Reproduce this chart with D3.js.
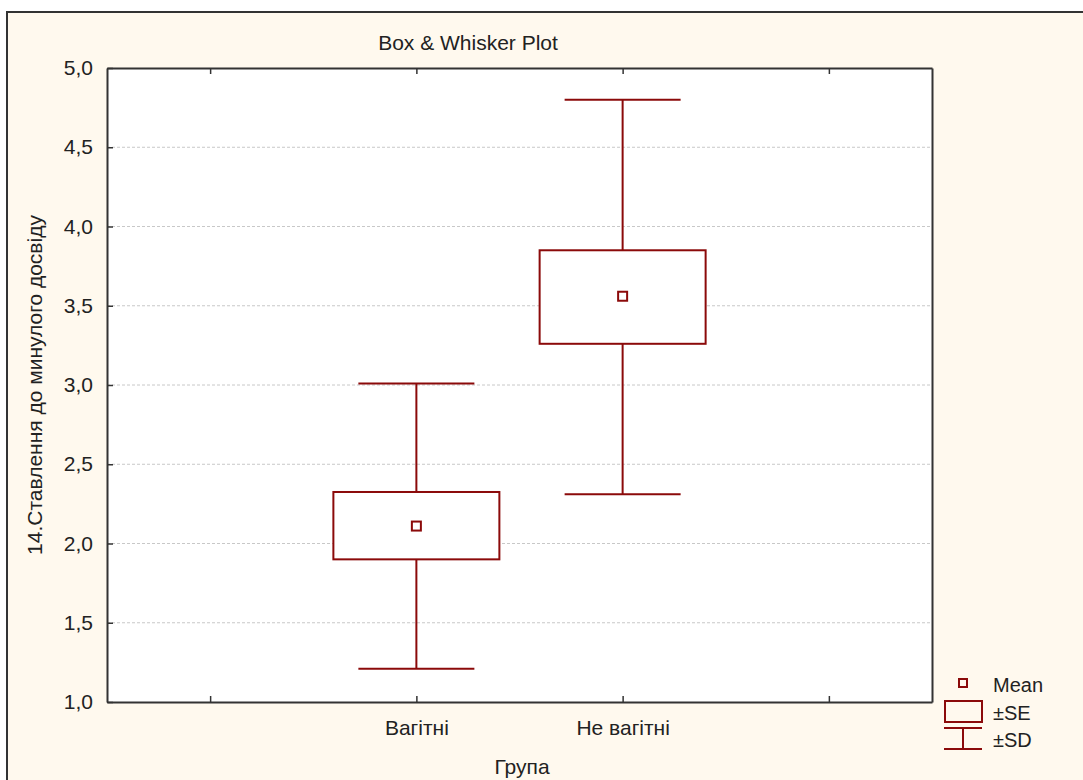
<!DOCTYPE html>
<html lang="uk">
<head>
<meta charset="UTF-8">
<title>Box & Whisker Plot</title>
<script src="https://cdn.jsdelivr.net/npm/d3@7"></script>
<style>
  body { margin: 0; background: #fff; }
  svg text { font-family: "Liberation Sans", Arial, sans-serif; fill: #222; }
</style>
</head>
<body>
<div id="chart"></div>
<script>
// data
const groups = ["Вагітні", "Не вагітні"];
const means = [2.11, 3.56];
const seLow = [1.90, 3.26];
const seHigh = [2.325, 3.85];
const sdLow = [1.21, 2.31];
const sdHigh = [3.01, 4.80];
const yTicks = [1.0, 1.5, 2.0, 2.5, 3.0, 3.5, 4.0, 4.5, 5.0];
const xTickPos = [0.5, 1.5, 2.5, 3.5];
const xTickLabels = ["", "Вагітні", "Не вагітні", ""];

const W = 1083, H = 780;
const red = "#8b0a0a";
const fs = 21;
const fmt = d => d.toFixed(1).replace(".", ",");

let svg = d3.select("#chart").append("svg")
    .attr("width", W).attr("height", H);

// cream frame
svg.append("rect")
    .attr("x", 7).attr("y", 12)
    .attr("width", W).attr("height", H)
    .attr("fill", "#fff9ee")
    .attr("stroke", "#333").attr("stroke-width", 2);

let plot = { left: 107, top: 68, right: 932, bottom: 702 };

let x = d3.scaleLinear().domain([0, 4]).range([plot.left, plot.right]);
let y = d3.scaleLinear().domain([1, 5]).range([plot.bottom, plot.top]);

svg.append("rect")
    .attr("x", plot.left).attr("y", plot.top)
    .attr("width", plot.right - plot.left).attr("height", plot.bottom - plot.top)
    .attr("fill", "#fff");

// gridlines
svg.append("g").selectAll("line")
    .data(yTicks.slice(1, -1))
    .join("line")
    .attr("x1", plot.left).attr("x2", plot.right)
    .attr("y1", d => y(d)).attr("y2", d => y(d))
    .attr("stroke", "#c8c8c8").attr("stroke-dasharray", "3,2");

// y axis (ticks inward)
let yAxis = d3.axisLeft(y).tickValues(yTicks).tickFormat(fmt).tickSizeInner(-6).tickSizeOuter(0).tickPadding(14);
let gy = svg.append("g").attr("transform", `translate(${plot.left},0)`).call(yAxis);
gy.attr("font-size", fs).attr("font-family", null);

// x axis bottom and top
let xAxis = d3.axisBottom(x).tickValues(xTickPos)
    .tickFormat((d, i) => xTickLabels[i]).tickSizeInner(-6).tickSizeOuter(0).tickPadding(18);
let gx = svg.append("g").attr("transform", `translate(0,${plot.bottom})`).call(xAxis);
gx.attr("font-size", fs).attr("font-family", null);

svg.append("g").attr("transform", `translate(0,${plot.top})`)
    .call(d3.axisTop(x).tickValues(xTickPos).tickFormat("").tickSizeInner(-6).tickSizeOuter(0));

// right axis line
svg.append("g").attr("transform", `translate(${plot.right},0)`)
    .call(d3.axisRight(y).tickValues([]).tickSizeOuter(0));

svg.selectAll(".domain").attr("stroke", "#333").attr("stroke-width", 2);
svg.selectAll(".tick line").attr("stroke", "#333").attr("stroke-width", 1.5);
svg.selectAll(".tick text").attr("fill", "#222");

// boxes
let data = groups.map((g, i) => ({
    g, pos: i + 1.5, mean: means[i], seL: seLow[i], seH: seHigh[i], sdL: sdLow[i], sdH: sdHigh[i]
}));

let boxW = 166, capW = 116, mk = 9;
let bg = svg.append("g").selectAll("g").data(data).join("g");

bg.append("line")
    .attr("x1", d => x(d.pos)).attr("x2", d => x(d.pos))
    .attr("y1", d => y(d.sdH)).attr("y2", d => y(d.sdL))
    .attr("stroke", red).attr("stroke-width", 2);
bg.append("line")
    .attr("x1", d => x(d.pos) - capW / 2).attr("x2", d => x(d.pos) + capW / 2)
    .attr("y1", d => y(d.sdH)).attr("y2", d => y(d.sdH))
    .attr("stroke", red).attr("stroke-width", 2);
bg.append("line")
    .attr("x1", d => x(d.pos) - capW / 2).attr("x2", d => x(d.pos) + capW / 2)
    .attr("y1", d => y(d.sdL)).attr("y2", d => y(d.sdL))
    .attr("stroke", red).attr("stroke-width", 2);
bg.append("rect")
    .attr("x", d => x(d.pos) - boxW / 2).attr("width", boxW)
    .attr("y", d => y(d.seH)).attr("height", d => y(d.seL) - y(d.seH))
    .attr("fill", "#fff").attr("stroke", red).attr("stroke-width", 2);
bg.append("rect")
    .attr("x", d => x(d.pos) - mk / 2).attr("y", d => y(d.mean) - mk / 2)
    .attr("width", mk).attr("height", mk)
    .attr("fill", "#fff").attr("stroke", red).attr("stroke-width", 2);

// title and axis labels
svg.append("text").attr("x", 468).attr("y", 50).attr("text-anchor", "middle")
    .attr("font-size", fs).text("Box & Whisker Plot");
svg.append("text").attr("x", 522).attr("y", 774).attr("text-anchor", "middle")
    .attr("font-size", fs).text("Група");
svg.append("text")
    .attr("transform", `translate(42,${(plot.top + plot.bottom) / 2}) rotate(-90)`)
    .attr("text-anchor", "middle").attr("font-size", fs)
    .text("14.Ставлення до минулого досвіду");

// legend
let lg = svg.append("g");
lg.append("rect").attr("x", 959).attr("y", 679).attr("width", 8).attr("height", 8)
    .attr("fill", "none").attr("stroke", red).attr("stroke-width", 2);
lg.append("rect").attr("x", 945).attr("y", 701).attr("width", 37).attr("height", 21)
    .attr("fill", "none").attr("stroke", red).attr("stroke-width", 2);
lg.append("line").attr("x1", 944).attr("x2", 982).attr("y1", 728).attr("y2", 728).attr("stroke", red).attr("stroke-width", 2);
lg.append("line").attr("x1", 944).attr("x2", 982).attr("y1", 749).attr("y2", 749).attr("stroke", red).attr("stroke-width", 2);
lg.append("line").attr("x1", 963).attr("x2", 963).attr("y1", 728).attr("y2", 749).attr("stroke", red).attr("stroke-width", 2);
[["Mean", 692], ["±SE", 720], ["±SD", 747]].forEach(([t, yy]) => {
    lg.append("text").attr("x", 993).attr("y", yy).attr("font-size", 20).text(t);
});
</script>
</body>
</html>
